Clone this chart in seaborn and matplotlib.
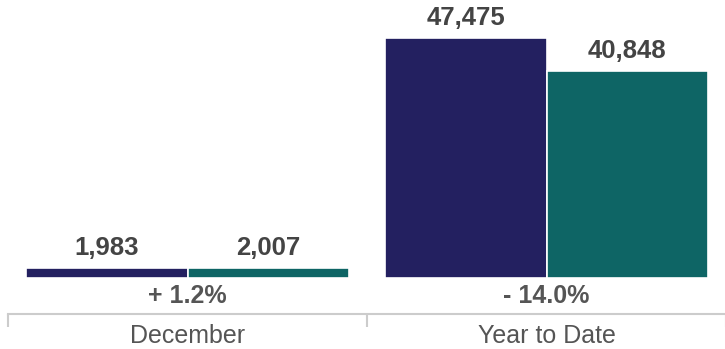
import matplotlib
matplotlib.use("Agg")
import matplotlib.pyplot as plt
import seaborn as sns
import pandas as pd
from matplotlib.ticker import FixedLocator

categories = ["December", "Year to Date"]
series = ["Prior Year", "Current Year"]
prior_values = [1983, 47475]
current_values = [2007, 40848]
change_labels = ["+ 1.2%", "- 14.0%"]
colors = ["#232060", "#0e6565"]

df = pd.DataFrame({
    "period": categories * 2,
    "series": [series[0]] * 2 + [series[1]] * 2,
    "value": prior_values + current_values,
})

sns.set_style("white")
plt.rcParams["font.family"] = ["Liberation Sans", "DejaVu Sans"]

fig = plt.figure(figsize=(7.25, 3.49), dpi=100)
ax = fig.add_axes([8 / 725, 35 / 349, 718 / 725, 314 / 349])

sns.barplot(data=df, x="period", y="value", hue="series", order=categories,
            hue_order=series, palette=colors, width=0.9, dodge=True,
            edgecolor="white", linewidth=1.2, saturation=1, ax=ax, legend=False)

ax.set_xlim(-0.5, 1.5)
ax.set_ylim(-7121, 54990)

for p in ax.patches:
    h = p.get_height()
    if h <= 0:
        continue
    ax.annotate(f"{int(round(h)):,}", (p.get_x() + p.get_width() / 2, h),
                xytext=(0, 20), textcoords="offset pixels",
                ha="center", va="center", fontsize=18.5, fontweight="bold",
                color="#444444")

for i, lab in enumerate(change_labels):
    ax.annotate(lab, (i, 0), xytext=(0, -18), textcoords="offset pixels",
                ha="center", va="center", fontsize=18, fontweight="bold",
                color="#555555")

for s in ["top", "right", "left"]:
    ax.spines[s].set_visible(False)
ax.spines["bottom"].set_color("#cccccc")
ax.spines["bottom"].set_linewidth(1.5)

ax.set_yticks([])
ax.set_xlabel("")
ax.set_ylabel("")
ax.tick_params(axis="x", which="major", length=0, pad=7, labelsize=18,
               labelcolor="#555555", bottom=True)
ax.xaxis.set_minor_locator(FixedLocator([-0.5, 0.5, 1.5]))
ax.tick_params(axis="x", which="minor", length=9, width=1.5, color="#cccccc",
               direction="out", bottom=True)

fig.savefig("out.png", dpi=100)
